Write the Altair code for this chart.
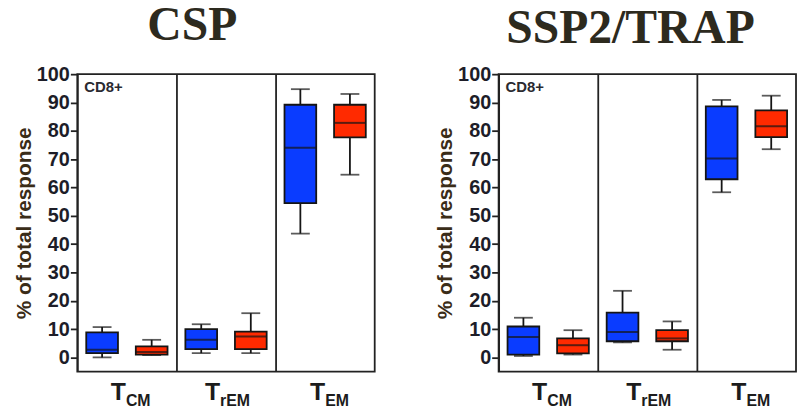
import altair as alt
import pandas as pd

groups = ["TCM", "TrEM", "TEM"]
subs = ["CM", "rEM", "EM"]
series = ["Blue", "Red"]
series_colors = ["#0a3cff", "#ff2a00"]

# CSP panel: box statistics (min, q1, median, q3, max) per group
csp_blue_min = [0.0, 1.5, 43.7]
csp_blue_q1 = [1.5, 2.9, 54.5]
csp_blue_med = [2.7, 6.2, 74.0]
csp_blue_q3 = [8.8, 10.0, 89.2]
csp_blue_max = [10.7, 11.7, 94.7]
csp_red_min = [0.8, 1.5, 64.5]
csp_red_q1 = [1.0, 2.9, 77.7]
csp_red_med = [1.9, 7.4, 82.8]
csp_red_q3 = [3.9, 9.1, 89.2]
csp_red_max = [6.2, 15.6, 93.0]

# SSP2/TRAP panel
ssp_blue_min = [0.5, 5.3, 58.3]
ssp_blue_q1 = [1.0, 5.7, 62.9]
ssp_blue_med = [7.2, 9.0, 70.2]
ssp_blue_q3 = [10.9, 15.8, 88.6]
ssp_blue_max = [14.0, 23.5, 90.9]
ssp_red_min = [1.0, 2.7, 73.5]
ssp_red_q1 = [1.4, 5.7, 77.8]
ssp_red_med = [4.3, 6.7, 81.6]
ssp_red_q3 = [6.7, 9.6, 87.2]
ssp_red_max = [9.6, 12.7, 92.4]

y_ticks = list(range(0, 101, 10))

SANS = "Liberation Sans"
SERIF = "Liberation Serif"
INK = "#1c1c1c"
LINE = "#151515"


def make_df(stats):
    rows = []
    for s, (mn, q1, md, q3, mx) in zip(series, stats):
        for i, g in enumerate(groups):
            rows.append(dict(group=g, series=s, lo=mn[i], q1=q1[i], med=md[i], q3=q3[i], hi=mx[i]))
    return pd.DataFrame(rows)


x_enc = alt.X(
    "group:N", sort=groups,
    scale=alt.Scale(domain=groups, paddingInner=0, paddingOuter=0),
    axis=alt.Axis(title=None, labels=False, ticks=False, domain=False, grid=True,
                  bandPosition=0, gridColor="#222222", gridWidth=1.8, gridOpacity=1),
)
xo_enc = alt.XOffset("series:N", scale=alt.Scale(domain=series, paddingInner=0.36, paddingOuter=0.18))
y_scale = alt.Scale(domain=[-5, 100], nice=False, zero=False)
y_axis = alt.Axis(
    values=y_ticks, title="% of total response", grid=False, domain=False,
    labelFont=SANS, labelFontSize=20, labelFontWeight="bold", labelColor="#1d1d28",
    labelPadding=1, tickSize=7, tickWidth=1.8, tickColor="#222222",
    titleFont=SANS, titleFontSize=21, titleFontWeight="bold", titleColor="#3a2c18",
    titlePadding=2,
)


def Y(field):
    return alt.Y(field, scale=y_scale, axis=y_axis)


label_dx = [-1, -6, 0]


def panel(df, title, tdx, toff):
    base = alt.Chart(df)
    whisk = base.mark_rule(color=LINE, strokeWidth=1.8).encode(
        x=x_enc, xOffset=xo_enc, y=Y("lo:Q"), y2="hi:Q")
    cap_lo = base.mark_tick(color=LINE, size=19, thickness=1.8).encode(
        x=x_enc, xOffset=xo_enc, y=Y("lo:Q"))
    cap_hi = base.mark_tick(color=LINE, size=19, thickness=1.8).encode(
        x=x_enc, xOffset=xo_enc, y=Y("hi:Q"))
    box = base.mark_bar(stroke=LINE, strokeWidth=1.8).encode(
        x=x_enc, xOffset=xo_enc, y=Y("q1:Q"), y2="q3:Q",
        color=alt.Color("series:N", scale=alt.Scale(domain=series, range=series_colors), legend=None))
    med = base.mark_tick(color=LINE, size=32, thickness=2).encode(
        x=x_enc, xOffset=xo_enc, y=Y("med:Q"))

    lab_df = pd.DataFrame({"group": groups, "sub": subs})
    layers = [whisk, box, med, cap_lo, cap_hi]
    for g, dx in zip(groups, label_dx):
        lb = alt.Chart(lab_df).transform_filter(alt.datum.group == g)
        layers.append(lb.mark_text(text="T", align="right", baseline="alphabetic", dx=dx,
                                   font=SANS, fontSize=25, fontWeight="bold", color=INK)
                      .encode(x=x_enc, y=alt.value(329)))
        layers.append(lb.mark_text(align="left", baseline="alphabetic", dx=dx,
                                   font=SANS, fontSize=16, fontWeight="bold", color=INK)
                      .encode(x=x_enc, y=alt.value(335), text="sub:N"))
    cd8 = alt.Chart(pd.DataFrame({"t": ["CD8+"]})).mark_text(
        align="left", baseline="alphabetic", font=SANS, fontSize=15, fontWeight="bold",
        color="#2a2a30").encode(x=alt.value(7), y=alt.value(18), text="t:N")
    layers.append(cd8)
    return alt.layer(*layers).properties(
        width=300, height=300,
        title=alt.TitleParams(title, font=SERIF, fontSize=48, fontWeight="bold", color="#2d2a1e",
                              anchor="middle", frame="group", dx=tdx, offset=toff,
                              baseline="alphabetic"),
    )


csp_df = make_df([
    (csp_blue_min, csp_blue_q1, csp_blue_med, csp_blue_q3, csp_blue_max),
    (csp_red_min, csp_red_q1, csp_red_med, csp_red_q3, csp_red_max),
])
ssp_df = make_df([
    (ssp_blue_min, ssp_blue_q1, ssp_blue_med, ssp_blue_q3, ssp_blue_max),
    (ssp_red_min, ssp_red_q1, ssp_red_med, ssp_red_q3, ssp_red_max),
])

chart = alt.hconcat(
    panel(csp_df, "CSP", -34, -24),
    panel(ssp_df, "SSP2/TRAP", -17, -27),
    spacing=58,
).properties(
    padding={"left": 12, "top": 0, "right": 0, "bottom": 0},
    background="white",
).configure_view(stroke="#222222", strokeWidth=1.8)

chart.save("out.html", embed_options={"renderer": "svg", "actions": False})
